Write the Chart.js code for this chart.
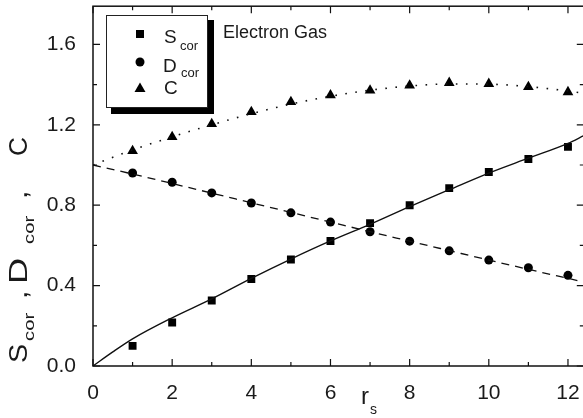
<!DOCTYPE html>
<html>
<head>
<meta charset="utf-8">
<script src="https://cdn.jsdelivr.net/npm/chart.js@4.4.0/dist/chart.umd.min.js"></script>
<style>
  html, body { margin: 0; padding: 0; background: #fff; overflow: hidden; }
  #wrap { width: 590px; height: 418px; }
</style>
</head>
<body>
<div id="wrap"><canvas id="myChart" width="590" height="418"></canvas></div>
<script>
// measured points
const rs = [1, 2, 3, 4, 5, 6, 7, 8, 9, 10, 11, 12];
const sCor = [0.10, 0.216, 0.326, 0.433, 0.53, 0.622, 0.711, 0.80, 0.885, 0.965, 1.03, 1.09];
const dCor = [0.96, 0.914, 0.861, 0.811, 0.762, 0.716, 0.668, 0.621, 0.573, 0.527, 0.489, 0.451];
const cVal = [1.07, 1.14, 1.204, 1.264, 1.314, 1.347, 1.371, 1.396, 1.409, 1.404, 1.388, 1.363];

// curves
const rsS = [0, 0.5, 1, 2, 3, 4, 5, 6, 7, 8, 9, 10, 11, 12, 12.4];
const sLine = [0, 0.07, 0.135, 0.24, 0.334, 0.436, 0.532, 0.622, 0.705, 0.793, 0.877, 0.96, 1.034, 1.108, 1.146];
const rsDC = [0, 1, 2, 3, 4, 5, 6, 7, 8, 9, 10, 11, 12, 12.4];
const dLine = [1.0, 0.955, 0.908, 0.86, 0.812, 0.764, 0.716, 0.668, 0.621, 0.574, 0.527, 0.481, 0.436, 0.418];
const cLine = [1.0, 1.075, 1.14, 1.2, 1.255, 1.303, 1.342, 1.372, 1.393, 1.403, 1.402, 1.39, 1.368, 1.357];

const xMajor = [0, 2, 4, 6, 8, 10, 12];
const xMinor = [1, 3, 5, 7, 9, 11];
const yMajor = [0, 0.4, 0.8, 1.2, 1.6];
const yMinor = [0.2, 0.6, 1.0, 1.4];

function pts(xs, ys) { return xs.map((x, i) => ({x: x, y: ys[i]})); }

const FONT = 'Arial, "Liberation Sans", sans-serif';

const frame = {
  id: 'frame',
  afterDraw(chart) {
    const c = chart.ctx, a = chart.chartArea;
    const xs = chart.scales.x, ys = chart.scales.y;
    c.save();
    c.strokeStyle = '#111';
    c.lineWidth = 1.5;
    c.strokeRect(a.left, a.top, a.right - a.left, a.bottom - a.top);
    c.lineWidth = 1.2;
    c.beginPath();
    const tx = (v, len) => {
      const p = xs.getPixelForValue(v);
      c.moveTo(p, a.bottom); c.lineTo(p, a.bottom - len);
      c.moveTo(p, a.top); c.lineTo(p, a.top + len);
    };
    const ty = (v, len) => {
      const p = ys.getPixelForValue(v);
      c.moveTo(a.left, p); c.lineTo(a.left + len, p);
      c.moveTo(a.right, p); c.lineTo(a.right - len, p);
    };
    xMajor.forEach(v => tx(v, 7));
    xMinor.forEach(v => tx(v, 4));
    yMajor.forEach(v => ty(v, 7));
    yMinor.forEach(v => ty(v, 4));
    c.stroke();

    // legend box with shadow
    c.fillStyle = '#000';
    c.fillRect(111, 20, 103, 94);
    c.fillStyle = '#fff';
    c.fillRect(106, 15, 102, 93);
    c.lineWidth = 1;
    c.strokeStyle = '#222';
    c.strokeRect(106.5, 15.5, 101, 92);

    c.fillStyle = '#000';
    c.fillRect(136, 30, 8, 8);
    c.beginPath(); c.arc(140, 62, 4.5, 0, Math.PI * 2); c.fill();
    c.beginPath(); c.moveTo(140, 82.5); c.lineTo(145.5, 92); c.lineTo(134.5, 92); c.closePath(); c.fill();

    c.fillStyle = '#1a1a1a';
    c.textAlign = 'left';
    c.textBaseline = 'alphabetic';
    const big = '19px ' + FONT, small = '13px ' + FONT;
    c.font = big; c.fillText('S', 164, 43);
    c.font = small; c.fillText('cor', 180, 50);
    c.font = big; c.fillText('D', 163, 72);
    c.font = small; c.fillText('cor', 181, 77);
    c.font = big; c.fillText('C', 164, 94);

    c.font = '18px ' + FONT;
    c.fillText('Electron Gas', 223, 38);

    // x title
    c.font = '24px ' + FONT; c.fillText('r', 361, 404);
    c.font = '14px ' + FONT; c.fillText('s', 370, 414);

    // y title (rotated)
    c.save();
    c.translate(27, 0);
    c.rotate(-Math.PI / 2);
    const part = (txt, size, yStart, off, sx) => {
      c.save();
      c.translate(-yStart, off);
      c.scale(sx, 1);
      c.font = size + 'px ' + FONT;
      c.fillText(txt, 0, 0);
      c.restore();
    };
    part('S', 25, 363, 0, 1.15);
    part('cor', 14, 341, 7, 1.45);
    part(',', 25, 299, 0, 1.2);
    part('D', 25, 284, 0, 1.45);
    part('cor', 14, 244, 7, 1.45);
    part(',', 25, 199, 0, 1.2);
    part('C', 25, 156, 0, 1.05);
    c.restore();
    c.restore();
  }
};

const noPad = s => { s.paddingTop = 0; s.paddingBottom = 0; s.paddingLeft = 0; s.paddingRight = 0; };

const ctx = document.getElementById('myChart');
new Chart(ctx, {
  type: 'scatter',
  data: {
    datasets: [
      { data: pts(rsS, sLine), showLine: true, borderColor: '#111', borderWidth: 1.4,
        pointRadius: 0, cubicInterpolationMode: 'monotone' },
      { data: pts(rsDC, dLine), showLine: true, borderColor: '#111', borderWidth: 1.3,
        borderDash: [8, 6], pointRadius: 0, cubicInterpolationMode: 'monotone' },
      { data: pts(rsDC, cLine), showLine: true, borderColor: '#111', borderWidth: 1.6,
        borderDash: [1.6, 8.5], pointRadius: 0, cubicInterpolationMode: 'monotone' },
      { data: pts(rs, sCor), pointStyle: 'rect', pointRadius: 5.6,
        backgroundColor: '#000', borderColor: '#000', borderWidth: 0 },
      { data: pts(rs, dCor), pointStyle: 'circle', pointRadius: 4.5,
        backgroundColor: '#000', borderColor: '#000', borderWidth: 0 },
      { data: pts(rs, cVal), pointStyle: 'triangle', pointRadius: 6.2,
        backgroundColor: '#000', borderColor: '#000', borderWidth: 0 }
    ]
  },
  options: {
    responsive: false,
    animation: false,
    layout: { padding: { top: 3, right: 5, left: 0, bottom: 0 } },
    plugins: { legend: { display: false }, tooltip: { enabled: false } },
    scales: {
      x: {
        type: 'linear', min: 0, max: 12.4,
        grid: { display: false }, border: { display: false },
        ticks: { stepSize: 2, includeBounds: false, padding: 7, color: '#1a1a1a',
                 font: { family: FONT, size: 21 } },
        afterFit: s => { s.height = 52; noPad(s); }
      },
      y: {
        type: 'linear', min: 0, max: 1.79,
        grid: { display: false }, border: { display: false },
        ticks: { stepSize: 0.4, includeBounds: false, padding: 9, color: '#1a1a1a',
                 font: { family: FONT, size: 21 },
                 callback: v => v.toFixed(1) },
        afterFit: s => { s.width = 93; noPad(s); }
      }
    }
  },
  plugins: [frame]
});
</script>
</body>
</html>
